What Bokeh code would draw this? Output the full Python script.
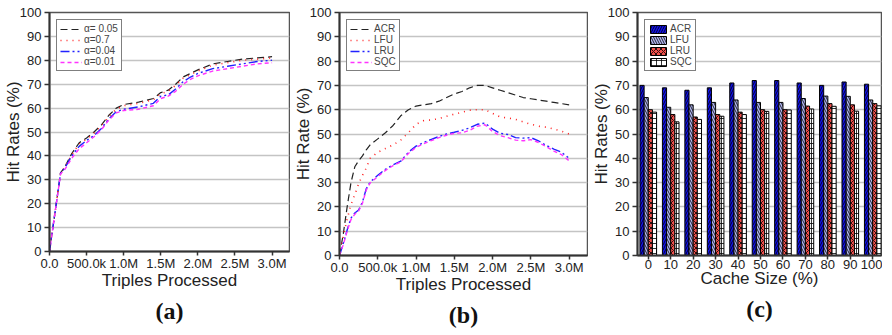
from bokeh.plotting import figure
from bokeh.layouts import row
from bokeh.models import (FixedTicker, Legend, LegendItem, Title, ColumnDataSource, Range1d)
from bokeh.transform import dodge
from bokeh.embed import file_html
from bokeh.resources import INLINE

# ---------------- data ----------------
# (a) triples processed (millions) vs hit rate for several alpha
xa = [0, 0.15, 0.2, 0.3, 0.4, 0.5, 0.6, 0.7, 0.8, 0.9, 1.0, 1.2, 1.4, 1.5, 1.6, 1.7, 1.8, 1.9, 2.0, 2.2, 2.4, 2.6, 2.8, 3.0]
a_005 = [0, 33, 35, 41, 45.5, 47.5, 50, 53, 57, 60, 61.5, 62.5, 64, 66.5, 67.5, 70, 73, 74.5, 76, 78.5, 79.5, 80.5, 81, 81.5]
a_07 = [0, 33, 35, 40.5, 45, 47, 49.5, 52.5, 56.5, 59.5, 61, 62, 63.5, 66, 67, 69.5, 72.5, 74, 75.5, 78, 79, 80, 80.5, 81]
a_004 = [0, 33, 34.5, 40, 44, 46.5, 48.5, 51.5, 55.5, 58.5, 59.5, 60.5, 62, 65, 65.5, 68, 71, 73, 74.5, 76.5, 77.5, 78.5, 79.5, 80]
a_001 = [0, 32.5, 34, 39, 43, 45.5, 48, 51, 55, 58, 59, 59.5, 61, 64, 65, 67, 70, 72, 73.5, 75.5, 76.5, 77.5, 78.5, 79]
a_labels = ["α= 0.05", "α=0.7", "α=0.04", "α=0.01"]

# (b) triples processed (millions) vs hit rate per policy
xb = [0, 0.05, 0.1, 0.15, 0.2, 0.25, 0.3, 0.35, 0.4, 0.5, 0.6, 0.7, 0.8, 0.9, 1.0, 1.1, 1.2, 1.3, 1.4,
      1.5, 1.6, 1.7, 1.8, 1.9, 2.0, 2.1, 2.2, 2.3, 2.4, 2.5, 2.6, 2.7, 2.8, 2.9, 3.0]
b_acr = [0, 9, 20, 30, 36.5, 39, 41, 43.5, 45.5, 48, 50.5, 53.5, 57.5, 60, 61.5, 62, 62.5, 63.5, 65,
         66.5, 67.5, 69, 70, 70, 69, 68, 67, 66, 65, 64.5, 64, 63.5, 63, 62.5, 62]
b_lfu = [0, 8, 15, 21, 25, 29.5, 33, 36, 40, 42.5, 44, 45.5, 47.5, 50.5, 54, 55.5, 55.8, 56.3, 57.3,
         58.2, 58.9, 59.8, 60, 60, 58.5, 57, 56.6, 56, 55, 54, 53.2, 52.8, 52, 51.2, 50]
b_lru = [0, 5, 10.5, 15.4, 17.5, 18.7, 22, 27.5, 30.2, 33, 35.5, 37.3, 38.8, 42.5, 45, 46.5, 47.8, 49, 50,
         50.7, 51.5, 52.5, 54, 54.5, 52, 50.3, 49.8, 48.5, 48.3, 48.5, 47.2, 45.3, 43.8, 42.5, 40]
b_sqc = [0, 4.5, 10, 14.8, 17, 18.3, 21.5, 27, 29.8, 32.5, 35, 37, 38.5, 42, 44.5, 46, 47.3, 48.5, 49.5,
         50.3, 50.5, 51.5, 53.2, 53.8, 51, 49.3, 48.5, 47.5, 47.2, 47.7, 46.5, 44.8, 43, 41.5, 39]
b_labels = ["ACR", "LFU", "LRU", "SQC"]

# (c) cache size (%) vs hit rate per policy
cache = [0, 10, 20, 30, 40, 50, 60, 70, 80, 90, 100]
c_acr = [70, 69, 68, 69, 71, 72, 72, 71, 70, 71.4, 70.5]
c_lfu = [65, 61, 62, 63, 64, 63, 63, 64.6, 65.6, 65.5, 64]
c_lru = [60, 58, 57, 58, 59, 60, 60, 61.5, 62.5, 62, 62.5]
c_sqc = [59, 55, 56, 57.3, 58, 59.3, 59.9, 60.3, 61.4, 59.4, 61.6]

y_ticks = [0, 10, 20, 30, 40, 50, 60, 70, 80, 90, 100]
x_ticks = [0, 0.5, 1.0, 1.5, 2.0, 2.5, 3.0]
x_tick_labels = ["0.0", "500.0k", "1.0M", "1.5M", "2.0M", "2.5M", "3.0M"]

FONT = "Liberation Sans"
AXC = "#333333"


def style(p, ylabel, xlabel, letter):
    p.yaxis.ticker = FixedTicker(ticks=y_ticks)
    p.yaxis.axis_label = ylabel
    p.xaxis.axis_label = xlabel
    for ax in (p.xaxis[0], p.yaxis[0]):
        ax.axis_line_color = AXC
        ax.axis_line_width = 2
        ax.major_tick_line_color = AXC
        ax.major_tick_line_width = 1.5
        ax.major_tick_out = 5
        ax.major_tick_in = 0
        ax.minor_tick_line_color = None
        ax.major_label_text_font = FONT
        ax.major_label_text_font_size = "13px"
        ax.major_label_text_color = "#222222"
        ax.axis_label_text_font = FONT
        ax.axis_label_text_font_size = "17px"
        ax.axis_label_text_font_style = "normal"
        ax.axis_label_text_color = "#222222"
    p.xaxis.major_tick_out = 4
    p.xaxis.major_label_standoff = 0
    p.xaxis.axis_label_standoff = -3
    p.yaxis.major_label_standoff = 3
    p.yaxis.axis_label_standoff = -6
    p.xgrid.grid_line_color = None
    p.ygrid.grid_line_color = "#c4c4c4"
    p.ygrid.grid_line_width = 1.5
    p.outline_line_color = "#555555"
    p.outline_line_width = 1.5
    p.background_fill_color = "white"
    p.border_fill_color = "white"
    t = Title(text=letter, align="center", text_font="Liberation Serif",
              text_font_style="bold", text_font_size="24px", text_color="#111111",
              standoff=6, text_line_height=0.75)
    p.add_layout(t, "below")


def legend_style(lg):
    lg.location = "top_left"
    lg.margin = 7
    lg.padding = 3
    lg.spacing = 0
    lg.label_text_font = FONT
    lg.label_text_font_size = "10px"
    lg.label_height = 10
    lg.glyph_height = 10
    lg.glyph_width = 22
    lg.label_standoff = 2
    lg.border_line_color = "black"
    lg.border_line_width = 1.5
    lg.background_fill_alpha = 1
    lg.background_fill_color = "white"


line_colors = ["#222222", "#ff2222", "#2222ff", "#ff33ff"]
line_dashes = ["7 4", "1 5", "9 3 2 3 2 3", "4 3"]
line_widths = [1.2, 1.6, 1.4, 1.4]

# ---------------- panel (a) ----------------
pa = figure(width=290, height=326, output_backend="svg", toolbar_location=None,
            x_range=Range1d(0, 3.235), y_range=Range1d(0, 100),
            min_border_left=40, min_border_right=1, min_border_top=9, min_border_bottom=10)
items = []
for ys, c, d, w, lab in zip([a_005, a_07, a_004, a_001], line_colors, line_dashes, line_widths, a_labels):
    r = pa.line(xa, ys, line_color=c, line_dash=d, line_width=w)
    items.append(LegendItem(label=lab, renderers=[r]))
lga = Legend(items=items)
legend_style(lga)
pa.add_layout(lga, "center")
pa.xaxis.ticker = FixedTicker(ticks=x_ticks)
pa.xaxis.major_label_overrides = dict(zip(x_ticks, x_tick_labels))
style(pa, "Hit Rates (%)", "Triples Processed", "(a)")

# ---------------- panel (b) ----------------
pb = figure(width=298, height=330, output_backend="svg", toolbar_location=None,
            x_range=Range1d(0, 3.24), y_range=Range1d(0, 100),
            min_border_left=45, min_border_right=1, min_border_top=12, min_border_bottom=10)
items = []
for ys, c, d, w, lab in zip([b_acr, b_lfu, b_lru, b_sqc], line_colors, line_dashes, line_widths, b_labels):
    r = pb.line(xb, ys, line_color=c, line_dash=d, line_width=w)
    items.append(LegendItem(label=lab, renderers=[r]))
lgb = Legend(items=items)
legend_style(lgb)
pb.add_layout(lgb, "center")
pb.xaxis.ticker = FixedTicker(ticks=x_ticks)
pb.xaxis.major_label_overrides = dict(zip(x_ticks, x_tick_labels))
style(pb, "Hit Rate (%)", "Triples Processed", "(b)")

# ---------------- panel (c) ----------------
pc = figure(width=294, height=330, output_backend="svg", toolbar_location=None,
            x_range=Range1d(-4.8, 103.9), y_range=Range1d(0, 100),
            min_border_left=43, min_border_right=1, min_border_top=12, min_border_bottom=10)
src = ColumnDataSource(dict(x=cache, acr=c_acr, lfu=c_lfu, lru=c_lru, sqc=c_sqc))
bw = 1.85
bar_specs = [
    ("acr", "ACR", "#1212ee", "/", -1.5),
    ("lfu", "LFU", "#b3b8f2", "\\", -0.5),
    ("lru", "LRU", "#f0504c", "x", 0.5),
    ("sqc", "SQC", "#ffffff", "+", 1.5),
]
items = []
for col, lab, fc, hp, off in bar_specs:
    r = pc.vbar(x=dodge("x", off * bw, range=pc.x_range), top=col, width=bw, source=src,
                fill_color=fc, line_color="black", line_width=1,
                hatch_pattern=hp, hatch_color="black", hatch_scale=5, hatch_weight=0.8)
    items.append(LegendItem(label=lab, renderers=[r]))
lgc = Legend(items=items)
legend_style(lgc)
lgc.glyph_width = 20
pc.add_layout(lgc, "center")
pc.xaxis.ticker = FixedTicker(ticks=cache)
style(pc, "Hit Rates (%)", "Cache Size (%)", "(c)")

layout = row(pa, pb, pc)
open("out.html", "w").write(file_html(layout, INLINE))
